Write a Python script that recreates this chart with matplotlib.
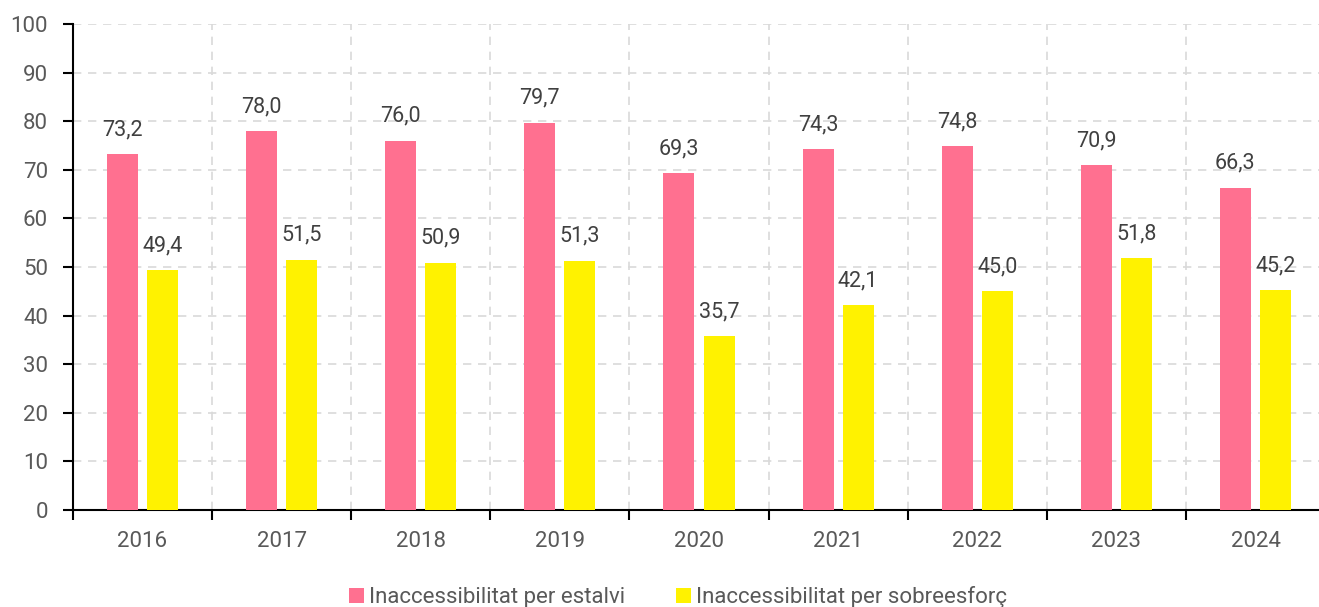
import matplotlib.pyplot as plt
import numpy as np

years = ['2016', '2017', '2018', '2019', '2020', '2021', '2022', '2023', '2024']
estalvi = [73.2, 78.0, 76.0, 79.7, 69.3, 74.3, 74.8, 70.9, 66.3]
sobreesforc = [49.4, 51.5, 50.9, 51.3, 35.7, 42.1, 45.0, 51.8, 45.2]
labels = ['Inaccessibilitat per estalvi', 'Inaccessibilitat per sobreesforç']

pink = '#FF7090'
yellow = '#FFF200'

plt.rcParams['font.family'] = ['Roboto', 'DejaVu Sans']

fig = plt.figure(figsize=(13.19, 6.07), dpi=100)
W, H = 1319, 607
ax = fig.add_axes([73 / W, (H - 510) / H, (1325 - 73) / W, (510 - 24) / H])

x = np.arange(len(years))
off = 0.144
bw = 0.223
ax.bar(x - off, estalvi, bw, color=pink, label=labels[0], zorder=3)
ax.bar(x + off, sobreesforc, bw, color=yellow, label=labels[1], zorder=3)

# etiquetes de valor
for i in range(len(years)):
    ax.annotate(f'{estalvi[i]:.1f}'.replace('.', ','), (x[i] - off, estalvi[i]),
                xytext=(0, 10), textcoords='offset points', ha='center', va='bottom',
                fontsize=15.5, color='#404040')
    ax.annotate(f'{sobreesforc[i]:.1f}'.replace('.', ','), (x[i] + off, sobreesforc[i]),
                xytext=(0, 10), textcoords='offset points', ha='center', va='bottom',
                fontsize=15.5, color='#404040')

ax.set_xlim(-0.5, len(years) - 0.5)
ax.set_ylim(0, 100)
ax.set_yticks(np.arange(0, 101, 10))
ax.set_xticks(x)
ax.set_xticklabels(years)
ax.set_xticks(np.arange(-0.5, len(years), 1), minor=True)

ax.tick_params(axis='x', which='major', length=0, pad=15, labelsize=16, labelcolor='#595959')
ax.tick_params(axis='x', which='minor', length=7, width=1.5, direction='out', color='black')
ax.tick_params(axis='y', length=7, width=1.5, direction='out', pad=11, labelsize=16,
               labelcolor='#595959')

ax.grid(axis='y', which='major', linestyle=(0, (5, 4)), color='#d9d9d9', linewidth=1.2, zorder=0)
ax.grid(axis='x', which='minor', linestyle=(0, (5, 4)), color='#d9d9d9', linewidth=1.2, zorder=0)

for s in ['top', 'right']:
    ax.spines[s].set_visible(False)
for s in ['left', 'bottom']:
    ax.spines[s].set_linewidth(1.5)
    ax.spines[s].set_color('black')

fig.legend(loc='center', bbox_to_anchor=(678 / W, (H - 597) / H), ncol=2, frameon=False,
           fontsize=16, labelcolor='#595959', handlelength=0.68, handleheight=0.65,
           handletextpad=0.23, columnspacing=2.27)

fig.savefig('out.png', dpi=100)
